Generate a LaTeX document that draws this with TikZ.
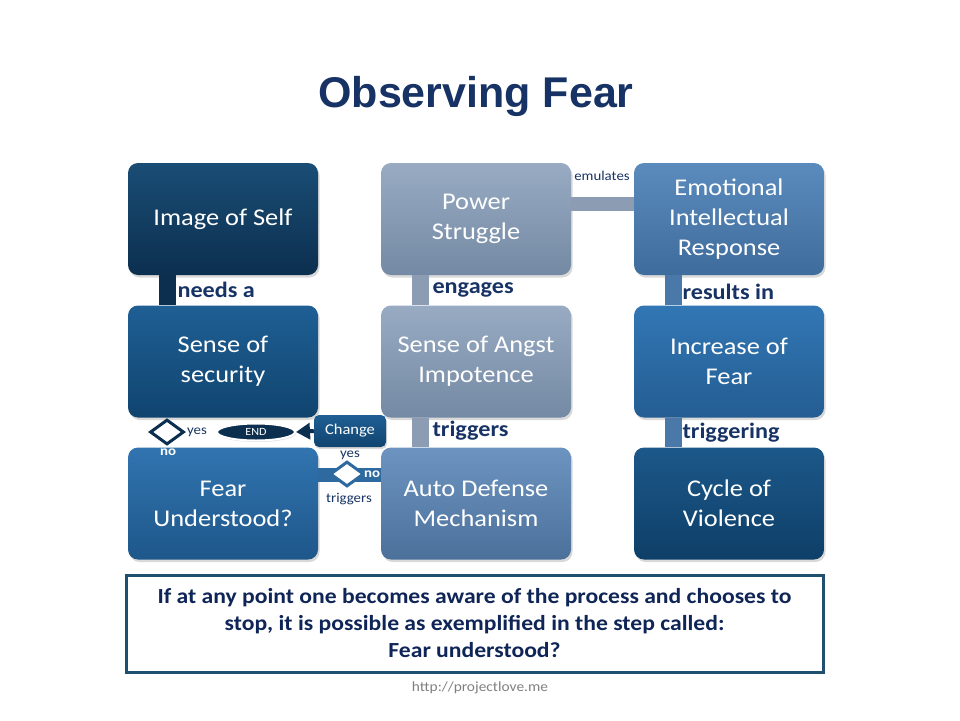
\documentclass[tikz,border=0pt]{standalone}
\usepackage{fontspec}
\setmainfont{Carlito}[FakeStretch=1.1]
\newfontfamily\titlefont{Liberation Sans}
\usetikzlibrary{shapes.geometric,shadows,arrows.meta}

\definecolor{titleblue}{RGB}{23,50,100}
\definecolor{navytop}{RGB}{26,77,117}
\definecolor{navybot}{RGB}{12,47,79}
\definecolor{greytop}{RGB}{152,171,195}
\definecolor{greybot}{RGB}{116,137,163}
\definecolor{grey}{RGB}{140,157,179}
\definecolor{emtop}{RGB}{91,139,189}
\definecolor{embot}{RGB}{62,108,156}
\definecolor{emblue}{RGB}{74,120,168}
\definecolor{sectop}{RGB}{31,95,148}
\definecolor{secbot}{RGB}{16,68,111}
\definecolor{inctop}{RGB}{50,119,181}
\definecolor{incbot}{RGB}{36,93,146}
\definecolor{feartop}{RGB}{49,116,176}
\definecolor{fearbot}{RGB}{30,87,138}
\definecolor{autotop}{RGB}{109,148,192}
\definecolor{autobot}{RGB}{75,113,155}
\definecolor{cyctop}{RGB}{28,88,137}
\definecolor{cycbot}{RGB}{14,63,104}
\definecolor{barblue}{RGB}{46,106,160}
\definecolor{notebd}{RGB}{31,80,112}
\definecolor{notetx}{RGB}{15,37,87}

\begin{document}
\begin{tikzpicture}[x=1pt,y=-1pt,
      every node/.style={align=center},
      stepbox/.style={rectangle,rounded corners=10pt,minimum width=190pt,minimum height=112pt,
        text=white,font=\fontsize{24}{30}\selectfont,
        drop shadow={opacity=0.3,shadow xshift=1.5pt,shadow yshift=-2.5pt}},
      bar/.style={line width=17pt},
      lbl/.style={anchor=west,text=titleblue,font=\bfseries\fontsize{22}{22}\selectfont},
      small/.style={text=titleblue,font=\fontsize{13.5}{13.5}\selectfont},
      nolbl/.style={text=white,font=\bfseries\fontsize{13.5}{13.5}\selectfont},
      decision/.style={diamond,fill=white,line width=3pt,minimum width=34pt,minimum height=25pt,inner sep=0pt}]
  \useasboundingbox (0,0) rectangle (960,720);

  \node[font=\titlefont\bfseries\fontsize{43}{43}\selectfont,text=titleblue] (title) at (476,96) {Observing Fear};

  % first row
  \node[stepbox,top color=navytop,bottom color=navybot] (self) at (223,219) {Image of Self};
  \node[stepbox,top color=greytop,bottom color=greybot] (power) at (476,219) {Power\\Struggle};
  \node[stepbox,top color=emtop,bottom color=embot] (resp) at (729,219) {Emotional\\Intellectual\\Response};
  % second row
  \node[stepbox,top color=sectop,bottom color=secbot] (secur) at (223,361.5) {Sense of\\security};
  \node[stepbox,top color=greytop,bottom color=greybot] (angst) at (476,361.5) {Sense of Angst\\Impotence};
  \node[stepbox,top color=inctop,bottom color=incbot] (incr) at (729,361.5) {Increase of\\Fear};
  % third row
  \node[stepbox,top color=feartop,bottom color=fearbot] (fearu) at (223,503.5) {Fear\\Understood?};
  \node[stepbox,top color=autotop,bottom color=autobot] (auto) at (476,503.5) {Auto Defense\\Mechanism};
  \node[stepbox,top color=cyctop,bottom color=cycbot] (cycle) at (729,503.5) {Cycle of\\Violence};

  % connectors
  \draw[bar,navybot] ([xshift=-56pt]self.south) -- ([xshift=-56pt]secur.north);
  \draw[bar,grey] ([xshift=-56pt]power.south) -- ([xshift=-56pt]angst.north);
  \draw[bar,grey] ([xshift=-56pt]angst.south) -- ([xshift=-56pt]auto.north);
  \draw[bar,emblue] ([xshift=-56pt]resp.south) -- ([xshift=-56pt]incr.north);
  \draw[bar,emblue] ([xshift=-56pt]incr.south) -- ([xshift=-56pt]cycle.north);
  \draw[line width=14pt,grey] ([yshift=15pt]power.east) -- ([yshift=15pt]resp.west);
  \draw[line width=14pt,barblue] ([yshift=29pt]fearu.east) -- ([yshift=29pt]auto.west);

  \node[lbl] (needs) at (174,290) {needs a};
  \node[lbl] (engages) at (429,290) {engages};
  \node[lbl] (results) at (679,292) {results in};
  \node[lbl] (triggers) at (429,431) {triggers};
  \node[lbl] (triggering) at (679,433) {triggering};
  \node[small,anchor=south] (emulates) at (602,184) {emulates};

  % decision between security and fear understood
  \node[decision,draw=navybot] (dq1) at (167,432) {};
  \node[small] (yes1) at (197,432) {yes};
  \node[nolbl] (no1) at (168,452) {no};
  \node[ellipse,fill=navybot,draw=white,line width=2pt,minimum width=78pt,minimum height=17pt,
    inner sep=0pt,text=white,font=\fontsize{11}{11}\selectfont,
    drop shadow={opacity=0.25,shadow xshift=1pt,shadow yshift=-1.5pt}] (end) at (256,432) {END};
  \node[rectangle,rounded corners=5pt,top color=sectop,bottom color=secbot,minimum width=72pt,
    minimum height=32pt,text=white,font=\fontsize{15}{15}\selectfont,
    drop shadow={opacity=0.3,shadow xshift=1pt,shadow yshift=-2pt}] (change) at (350,431) {Change};
  \draw[navybot,line width=4pt,-{Triangle[length=14pt,width=16pt]}] (change.west) -- (end.east);

  % decision between fear understood and auto defense
  \node[decision,draw=barblue] (dq2) at (347,474) {};
  \node[small] (yes2) at (350,455) {yes};
  \node[nolbl] (no2) at (372,474) {no};
  \node[small] (trig2) at (349,499) {triggers};

  \node[draw=notebd,line width=3pt,minimum width=697pt,minimum height=97pt,text=notetx,
    font=\bfseries\fontsize{21.5}{27}\selectfont] (note) at (474.5,623.5)
    {If at any point one becomes aware of the process and chooses to\\
     stop, it is possible as exemplified in the step called:\\
     Fear understood?};
  \node[text=gray,font=\fontsize{14}{14}\selectfont] (url) at (480,688) {http://projectlove.me};
\end{tikzpicture}
\end{document}
